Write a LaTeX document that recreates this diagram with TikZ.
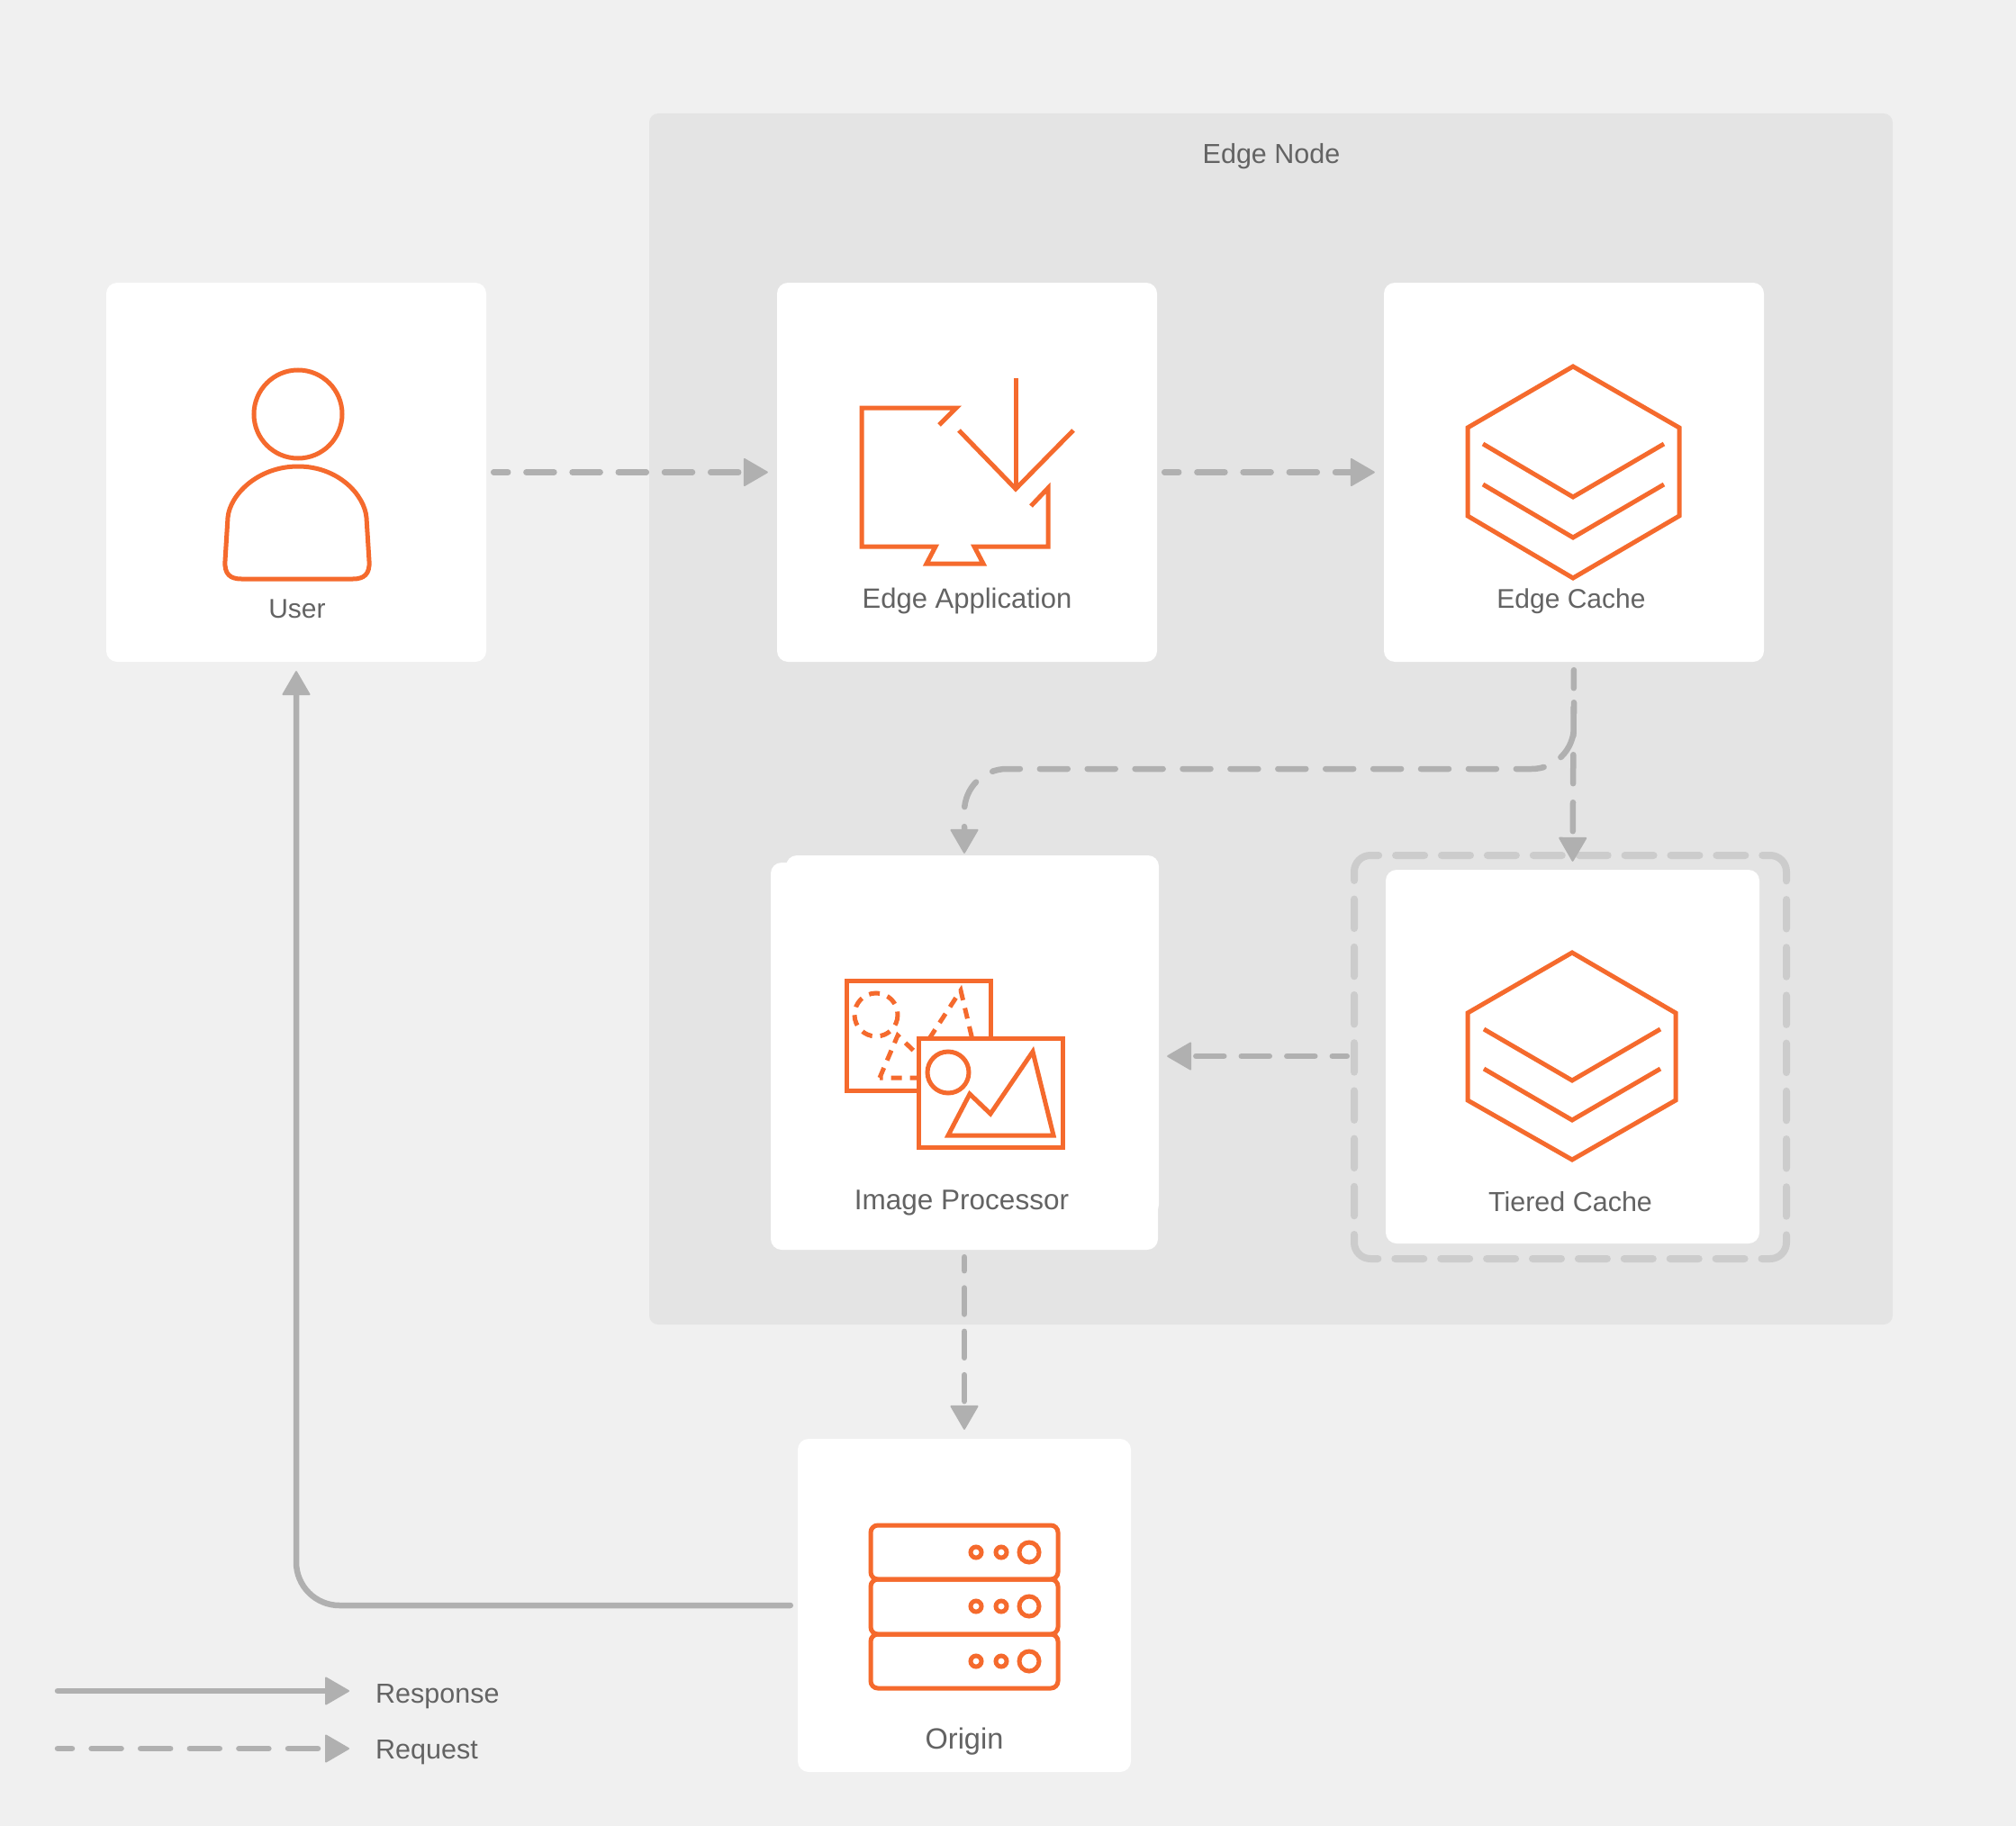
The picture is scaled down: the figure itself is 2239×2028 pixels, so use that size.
\documentclass[tikz,border=0pt]{standalone}
\usepackage{fontspec}
\setmainfont{Liberation Sans}
\usetikzlibrary{arrows.meta}
\definecolor{pagebg}{HTML}{F0F0F0}
\definecolor{nodebg}{HTML}{E4E4E4}
\definecolor{linegray}{HTML}{B0B0B0}
\definecolor{framegray}{HTML}{CCCCCC}
\definecolor{iconorange}{HTML}{F56A2D}
\definecolor{labelgray}{HTML}{636363}

\begin{document}
\begin{tikzpicture}[
  x=1pt, y=-1pt,
  every node/.style={font=\fontsize{30}{36}\selectfont, text=labelgray, inner sep=0pt},
  cardbox/.style={fill=white, rounded corners=12pt},
  cardlabel/.style={anchor=base},
  legendlabel/.style={anchor=base west},
  icon/.style={draw=iconorange, line width=5pt, miter limit=10},
  icondash/.style={icon, dash pattern=on 12pt off 9pt},
  tip/.style={-{Triangle[length=28pt,width=32pt,round,line width=2pt]}},
  respline/.style={draw=linegray, line width=6.5pt, line cap=round, tip},
  reqline/.style={respline, dash pattern=on 31pt off 20.2pt},
  framedash/.style={dash pattern=on 9pt off 20.7pt
    on 32.5pt off 20.7pt on 32.5pt off 20.7pt on 32.5pt off 20.7pt on 32.5pt off 20.7pt on 32.5pt off 20.7pt on 32.5pt off 20.7pt on 32.5pt off 20.7pt
    on 47.3pt off 18.9pt
    on 32pt off 18.9pt on 32pt off 18.9pt on 32pt off 18.9pt on 32pt off 18.9pt on 32pt off 18.9pt on 32pt off 18.9pt on 32pt off 18.9pt on 32pt off 18.9pt
    on 47.3pt off 20.7pt
    on 32.5pt off 20.7pt on 32.5pt off 20.7pt on 32.5pt off 20.7pt on 32.5pt off 20.7pt on 32.5pt off 20.7pt on 32.5pt off 20.7pt on 32.5pt off 20.7pt
    on 46.3pt off 18.9pt
    on 32pt off 18.9pt on 32pt off 18.9pt on 32pt off 18.9pt on 32pt off 18.9pt on 32pt off 18.9pt on 32pt off 18.9pt on 32pt off 18.9pt on 32pt off 18.9pt
    on 60pt off 0pt}
]
  % page and edge node
  \fill[pagebg] (0,0) rectangle (2239,2028);
  \node[fill=nodebg, rounded corners=10pt, minimum width=1381pt, minimum height=1345pt] (edgenode) at (1411.5,798.5) {};
  \node[cardlabel, font=\fontsize{30.5}{36}\selectfont] (edgelabel) at (1412,182) {Edge Node};

  % cards
  \node[cardbox, minimum width=422pt, minimum height=421pt] (user) at (329,524.5) {};
  \node[cardbox, minimum width=422pt, minimum height=421pt] (app) at (1074,524.5) {};
  \node[cardbox, minimum width=422pt, minimum height=421pt] (cache) at (1748,524.5) {};
  \node[cardbox, minimum width=414pt, minimum height=400pt] (procback) at (1080,1150) {};
  \node[cardbox, minimum width=430pt, minimum height=430pt] (proc) at (1071,1173) {};
  \node[minimum width=480pt, minimum height=450pt] (tierframe) at (1744,1173) {};
  \draw[framegray, line width=8pt, line cap=round, rounded corners=18pt, framedash] (1504,1380) -- (1504,950) -- (1984,950) -- (1984,1398) -- (1504,1398) -- (1504,1380);
  \node[cardbox, minimum width=415pt, minimum height=415pt] (tier) at (1746.5,1173.5) {};
  \node[cardbox, minimum width=370pt, minimum height=370pt] (origin) at (1071,1783) {};

  % labels
  \node[cardlabel] (userlabel) at (330,686) {User};
  \node[cardlabel, font=\fontsize{31}{36}\selectfont] (applabel) at (1074,675) {Edge Application};
  \node[cardlabel] (cachelabel) at (1745,675) {Edge Cache};
  \node[cardlabel, font=\fontsize{31.5}{36}\selectfont] (proclabel) at (1068,1343) {Image Processor};
  \node[cardlabel, font=\fontsize{30.5}{36}\selectfont] (tierlabel) at (1744,1345) {Tiered Cache};
  \node[cardlabel, font=\fontsize{32.5}{36}\selectfont] (originlabel) at (1071,1942) {Origin};
  \node[legendlabel, font=\fontsize{30.5}{36}\selectfont] (resplabel) at (417,1891) {Response};
  \node[legendlabel, font=\fontsize{30.5}{36}\selectfont] (reqlabel) at (417,1953) {Request};

  % user icon
  \draw[icon] (331,460) circle (49);
  \draw[icon] (331,518) .. controls (286,518) and (255,550) .. (253,575) -- (250,623) .. controls (249,638) and (256,643) .. (268,643) -- (392,643) .. controls (404,643) and (411,638) .. (410,623) -- (407,575) .. controls (405,550) and (376,518) .. (331,518) -- cycle;

  % edge application icon
  \draw[icon] (1043,472) -- (1062,453) -- (957,453) -- (957,607) -- (1039,607) -- (1029,626) -- (1092,626) -- (1082,607) -- (1164,607) -- (1164,542) -- (1145,562);
  \draw[icon] (1128,420) -- (1128,543);
  \draw[icon] (1065,478) -- (1128,543) -- (1192,478);

  % edge cache icon
  \draw[icon] (1747,407) -- (1865,475) -- (1865,573) -- (1747,642) -- (1630,573) -- (1630,475) -- cycle;
  \draw[icon] (1647,493) -- (1747,552) -- (1848,493);
  \draw[icon] (1647,538) -- (1747,597) -- (1848,538);

  % image processor icon
  \draw[icon] (940,1089) rectangle (1100,1211);
  \draw[icondash] (973,1127) circle (24);
  \draw[icondash] (977,1197) -- (997,1150) -- (1020,1172) -- (1067,1100) -- (1090,1197) -- cycle;
  \draw[icon, fill=white] (1020,1153) rectangle (1180,1274);
  \draw[icon] (1053,1191) circle (23);
  \draw[icon] (1053,1261) -- (1077,1215) -- (1100,1237) -- (1147,1168) -- (1170,1261) -- cycle;

  % tiered cache icon
  \draw[icon] (1746,1058) -- (1861,1125) -- (1861,1222) -- (1746,1288) -- (1630,1222) -- (1630,1125) -- cycle;
  \draw[icon] (1648,1143) -- (1746,1200) -- (1844,1143);
  \draw[icon] (1648,1187) -- (1746,1244) -- (1844,1187);

  % origin icon
  \draw[icon, rounded corners=8pt] (967,1694) rectangle (1175,1754);
  \draw[icon, rounded corners=8pt] (967,1754) rectangle (1175,1815);
  \draw[icon, rounded corners=8pt] (967,1815) rectangle (1175,1875);
  \draw[icon] (1084,1724) circle (6);
  \draw[icon] (1112,1724) circle (6);
  \draw[icon] (1143,1724) circle (11);
  \draw[icon] (1084,1784) circle (6);
  \draw[icon] (1112,1784) circle (6);
  \draw[icon] (1143,1784) circle (11);
  \draw[icon] (1084,1845) circle (6);
  \draw[icon] (1112,1845) circle (6);
  \draw[icon] (1143,1845) circle (11);

  % connectors
  \coordinate (branch) at (1071,854);
  \draw[reqline, shorten <=8pt, shorten >=10pt, dash phase=15pt] (user.east) -- (app.west);
  \draw[reqline, shorten <=8pt, shorten >=10pt, dash phase=15pt] (app.east) -- (cache.west);
  \draw[reqline, dash pattern=on 32pt off 21pt, shorten <=9pt, shorten >=9pt, dash phase=12pt] (cache.south) -- (tier.north);
  \draw[reqline, dash pattern=on 31pt off 21.9pt, rounded corners=47pt, shorten <=45pt, shorten >=10pt, dash phase=19pt] (cache.south) |- (branch) -- (proc.north);
  \draw[reqline, dash pattern=on 31pt off 19.5pt, shorten <=8pt, shorten >=10pt, dash phase=15pt] (tierframe.west) -- (proc.east);
  \draw[reqline, dash pattern=on 29pt off 19.3pt, shorten <=8pt, shorten >=10pt, dash phase=14pt] (proc.south) -- (origin.north);
  \draw[respline, rounded corners=48pt, shorten <=8pt, shorten >=10pt] (origin.west) -| (user.south);

  % legend
  \coordinate (respstart) at (64,1878);
  \coordinate (respend) at (388,1878);
  \coordinate (reqstart) at (64,1942);
  \coordinate (reqend) at (388,1942);
  \draw[respline] (respstart) -- (respend);
  \draw[reqline, dash pattern=on 33pt off 21.6pt, dash phase=17pt] (reqstart) -- (reqend);
\end{tikzpicture}
\end{document}
